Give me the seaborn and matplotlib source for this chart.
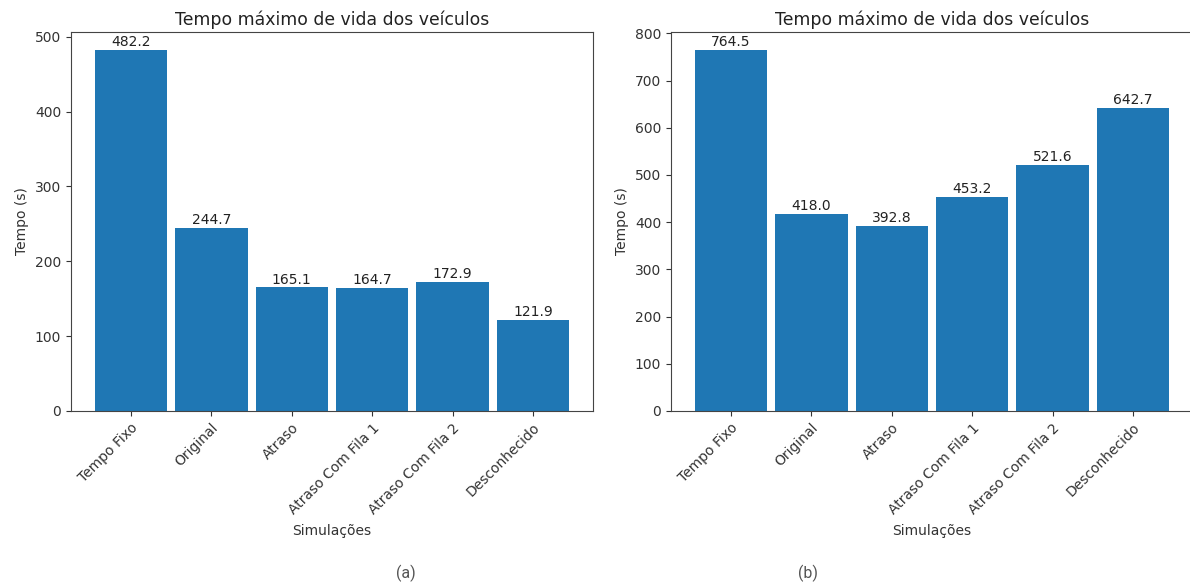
import matplotlib
matplotlib.use("Agg")
import matplotlib.pyplot as plt
import seaborn as sns
import pandas as pd

sns.set_style("ticks")
plt.rcParams["font.family"] = ["DejaVu Sans"]

simulacoes = ["Tempo Fixo", "Original", "Atraso", "Atraso Com Fila 1",
              "Atraso Com Fila 2", "Desconhecido"]
tempo_a = [482.2, 244.7, 165.1, 164.7, 172.9, 121.9]
tempo_b = [764.5, 418.0, 392.8, 453.2, 521.6, 642.7]

BAR_COLOR = "#1f77b4"
TICK_FS = 10
LABEL_FS = 10
TITLE_FS = 12.4

fig = plt.figure(figsize=(11.9, 5.85), dpi=100)
W, H = 1190, 585
ax_a = fig.add_axes([71 / W, 1 - 411 / H, 522 / W, 379 / H])
ax_b = fig.add_axes([671 / W, 1 - 411 / H, 522 / W, 379 / H])


def draw_panel(ax, values, tag, tag_x):
    df = pd.DataFrame({"Simulações": simulacoes, "Tempo": values})
    sns.barplot(data=df, x="Simulações", y="Tempo", ax=ax, color=BAR_COLOR,
                saturation=1, width=0.9, edgecolor="none", linewidth=0)
    ax.set_xlim(-0.745, len(values) - 1 + 0.745)
    ax.set_ylim(0, max(values) * 1.05)
    for container in ax.containers:
        ax.bar_label(container, labels=[f"{v:.1f}" for v in values],
                     fontsize=LABEL_FS, padding=0.5, color="#222222")
    ax.set_title("Tempo máximo de vida dos veículos", fontsize=TITLE_FS,
                 color="#222222", pad=5)
    ax.set_xlabel("Simulações", fontsize=LABEL_FS, color="#333333",
                  labelpad=5)
    ax.set_ylabel("Tempo (s)", fontsize=LABEL_FS, color="#333333")
    ax.tick_params(axis="both", labelsize=TICK_FS, colors="#333333",
                   length=3.5, width=0.8)
    plt.setp(ax.get_xticklabels(), rotation=45, ha="right",
             rotation_mode="anchor")
    for s in ax.spines.values():
        s.set_color("#444444")
        s.set_linewidth(0.8)
    fig.text(tag_x / W, 1 - 573 / H, tag, fontsize=11.5, color="#555555",
             family="Roboto", ha="center", va="center")


draw_panel(ax_a, tempo_a, "(a)", 406)
draw_panel(ax_b, tempo_b, "(b)", 808)

fig.savefig("out.png", dpi=100, facecolor="white")
